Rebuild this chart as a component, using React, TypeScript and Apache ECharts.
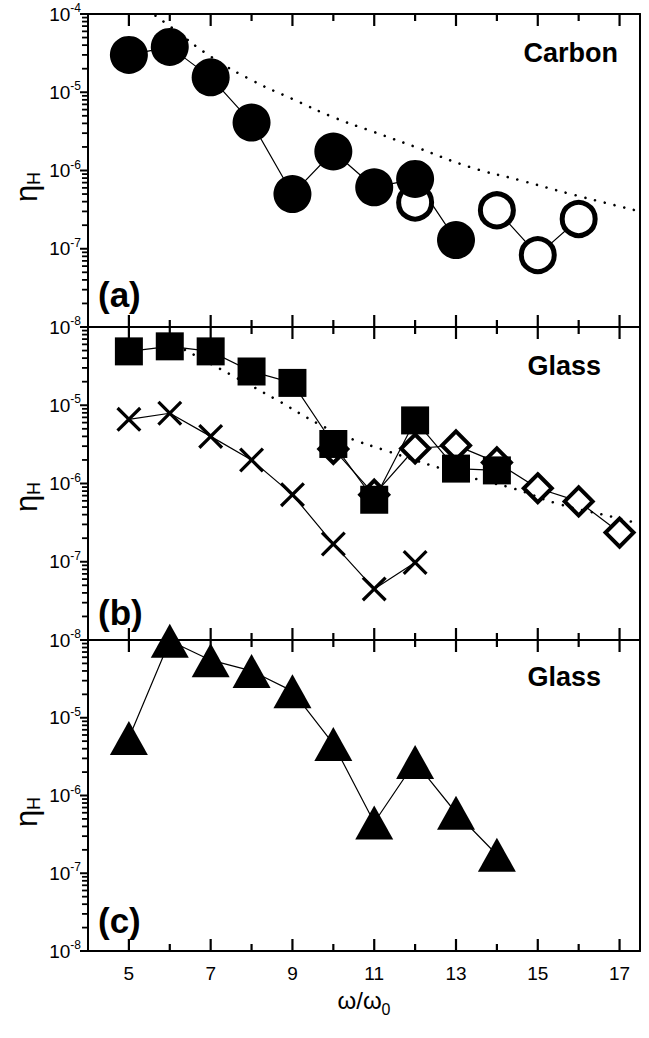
import React, { useEffect, useRef } from "react";
import * as echarts from "echarts";

const FONT = "Liberation Sans, Arial, Helvetica, sans-serif";

// axes
const X_MIN = 4;
const X_MAX = 17.5;
const xLabelTicks = [5, 7, 9, 11, 13, 15, 17];
const xMinorTicks = [6, 8, 10, 12, 14, 16];
const yMin = 1e-8;
const yMax = 1e-4;
const yDecades = [1e-8, 1e-7, 1e-6, 1e-5, 1e-4];
const yMinorExps = [-8, -7, -6, -5];
const yMinorMantissas = [2, 3, 4, 5, 6, 7, 8, 9];

// panel (a) Carbon
const carbonFilledX = [5, 6, 7, 8, 9, 10, 11, 12, 13];
const carbonFilledY = [3.0e-5, 3.8e-5, 1.55e-5, 4.1e-6, 5.0e-7, 1.75e-6, 6.1e-7, 7.8e-7, 1.29e-7];
const carbonOpenX = [12, 13, 14, 15, 16];
const carbonOpenY = [3.9e-7, null, 3.1e-7, 8.3e-8, 2.4e-7];
const carbonFitX = [5.65, 6.03, 7.03, 8.0, 9.0, 10.0, 11.0, 12.04, 13.36, 14.59, 15.81, 17.5];
const carbonFitY = [9.5e-5, 6.8e-5, 2.8e-5, 1.43e-5, 8.2e-6, 4.8e-6, 3.1e-6, 1.97e-6, 1.1e-6, 7.45e-7, 5.0e-7, 3.0e-7];

// panel (b) Glass
const squareX = [5, 6, 7, 8, 9, 10, 11, 12, 13, 14];
const squareY = [4.88e-5, 5.66e-5, 4.88e-5, 2.7e-5, 1.93e-5, 3.2e-6, 6.2e-7, 6.4e-6, 1.55e-6, 1.47e-6];
const diamondX = [10, 11, 12, 13, 14, 15, 16, 17];
const diamondY = [2.77e-6, 7.2e-7, 2.8e-6, 3.07e-6, 1.86e-6, 8.7e-7, 5.9e-7, 2.36e-7];
const crossX = [5, 6, 7, 8, 9, 10, 11, 12];
const crossY = [6.6e-6, 7.9e-6, 4.0e-6, 2.0e-6, 7.2e-7, 1.69e-7, 4.5e-8, 9.8e-8];
const glassFitX = [6.37, 7.6, 8.58, 9.71, 10.34, 11.27, 12.63, 13.61, 14.42, 15.5, 16.87, 17.5];
const glassFitY = [5.1e-5, 2.29e-5, 1.2e-5, 5.5e-6, 3.9e-6, 2.65e-6, 1.56e-6, 1.1e-6, 8.6e-7, 5.5e-7, 3.7e-7, 3.05e-7];

// panel (c) Glass
const triangleX = [5, 6, 7, 8, 9, 10, 11, 12, 13, 14];
const triangleY = [5.5e-6, 9.8e-5, 5.5e-5, 4.0e-5, 2.2e-5, 4.6e-6, 4.5e-7, 2.7e-6, 6.0e-7, 1.73e-7];

const pair = (xs: number[], ys: (number | null)[]) =>
  xs.map((x, k) => [x, ys[k] == null ? "-" : ys[k]]);

const GRID_LEFT = 88;
const GRID_WIDTH = 552;
const grids = [
  { top: 14, height: 313 },
  { top: 327, height: 313 },
  { top: 640, height: 311 },
];

const X_PER_GRID = 2;
const Y_PER_GRID = 2;

const CROSS =
  "path://M0,2.2L2.2,0L12,9.8L21.8,0L24,2.2L14.2,12L24,21.8L21.8,24L12,14.2L2.2,24L0,21.8L9.8,12Z";

export default function App() {
  const ref = useRef<HTMLDivElement>(null);

  useEffect(() => {
    if (!ref.current) return;
    const chart = echarts.init(ref.current, undefined, { renderer: "svg" });

    const minorValues: number[] = [];
    yMinorExps.forEach((e) =>
      yMinorMantissas.forEach((m) => minorValues.push(m * Math.pow(10, e)))
    );

    const frameLine = { show: true, lineStyle: { color: "#000", width: 2 } };

    const xAxes: any[] = [];
    const yAxes: any[] = [];
    grids.forEach((g, i) => {
      const bottom: any = {
        type: "value",
        gridIndex: i,
        min: X_MIN,
        max: X_MAX,
        position: "bottom",
        axisLine: frameLine,
        splitLine: { show: false },
        axisTick: { show: false },
        axisLabel:
          i === 2
            ? {
                show: true,
                customValues: xLabelTicks,
                fontSize: 19,
                fontFamily: FONT,
                color: "#000",
                margin: 13,
              }
            : { show: false },
      };
      if (i === 2) {
        bottom.name = "{w|ω/ω}{z|0}";
        bottom.nameLocation = "middle";
        bottom.nameGap = 32;
        bottom.nameTextStyle = {
          rich: {
            w: { fontSize: 24, fontFamily: FONT, color: "#000", lineHeight: 34 },
            z: { fontSize: 16, fontFamily: FONT, color: "#000", lineHeight: 16, verticalAlign: "bottom" },
          },
        };
      }
      xAxes.push(bottom);
      xAxes.push({
        type: "value",
        gridIndex: i,
        min: X_MIN,
        max: X_MAX,
        position: "top",
        axisLine: frameLine,
        splitLine: { show: false },
        axisTick: { show: false },
        axisLabel: { show: false },
      });

      yAxes.push({
        type: "log",
        logBase: 10,
        gridIndex: i,
        min: yMin,
        max: yMax,
        position: "left",
        axisLine: frameLine,
        axisTick: { show: false },
        splitLine: { show: false },
        axisLabel: {
          show: true,
          margin: 7,
          formatter: (v: number) => {
            const e = Math.round(Math.log10(v));
            if (i > 0 && e === -4) return "";
            return `{b|10}{s|${e}}`;
          },
          rich: {
            b: { fontSize: 19, fontFamily: FONT, color: "#000", lineHeight: 24 },
            s: { fontSize: 12, fontFamily: FONT, color: "#000", lineHeight: 12, verticalAlign: "top" },
          },
        },
      });
      yAxes.push({
        type: "log",
        logBase: 10,
        gridIndex: i,
        min: yMin,
        max: yMax,
        position: "right",
        axisLine: frameLine,
        axisTick: { show: false },
        splitLine: { show: false },
        axisLabel: { show: false },
      });
    });

    const dotted = { color: "#000", width: 2.6, type: [0.01, 10], cap: "round" };
    const thin = { color: "#000", width: 1.2 };

    const lineSeries = (gi: number, data: any[], style: any, z: number, smooth = false) => ({
      type: "line",
      xAxisIndex: gi * X_PER_GRID,
      yAxisIndex: gi * Y_PER_GRID,
      data,
      symbol: "none",
      smooth,
      connectNulls: false,
      lineStyle: style,
      z,
    });
    const scatter = (
      gi: number,
      data: any[],
      symbol: string,
      size: any,
      itemStyle: any,
      z: number,
      offset: number[] = [0, 0]
    ) => ({
      type: "scatter",
      xAxisIndex: gi * X_PER_GRID,
      yAxisIndex: gi * Y_PER_GRID,
      data: data.filter((d) => d[1] !== "-"),
      symbol,
      symbolSize: size,
      symbolOffset: offset,
      itemStyle,
      z,
      clip: false,
    });

    const openStyle = (bw: number) => ({ color: "#fff", borderColor: "#000", borderWidth: bw, opacity: 1 });
    const filled = { color: "#000", opacity: 1 };

    // tick marks: short rect symbols placed through the axes' scales
    const tickSeries: any[] = [];
    grids.forEach((g, i) => {
      const xt = (vals: number[], len: number) => {
        tickSeries.push(scatter(i, vals.map((v) => [v, yMin]), "rect", [2.2, len], filled, 6, [0, -len / 2]));
        tickSeries.push(scatter(i, vals.map((v) => [v, yMax]), "rect", [2.2, len], filled, 6, [0, len / 2]));
      };
      xt(xLabelTicks, 12);
      xt(xMinorTicks, 7);
      tickSeries.push(scatter(i, yDecades.map((v) => [X_MIN, v]), "rect", [8, 2], filled, 6, [-4, 0]));
      tickSeries.push(scatter(i, minorValues.map((v) => [X_MIN, v]), "rect", [6, 1.8], filled, 6, [-3, 0]));
    });

    const series: any[] = [
      ...tickSeries,
      // panel a
      lineSeries(0, pair(carbonFilledX, carbonFilledY), thin, 1),
      lineSeries(0, pair(carbonOpenX, carbonOpenY), thin, 1),
      scatter(0, pair(carbonOpenX, carbonOpenY), "circle", 33, openStyle(5), 2),
      lineSeries(0, pair(carbonFitX, carbonFitY), dotted, 3, true),
      scatter(0, pair(carbonFilledX, carbonFilledY), "circle", 38, filled, 4),
      // panel b
      lineSeries(1, pair(squareX, squareY), thin, 1),
      lineSeries(1, pair(diamondX, diamondY), thin, 1),
      lineSeries(1, pair(crossX, crossY), thin, 1),
      scatter(1, pair(diamondX, diamondY), "diamond", 28, openStyle(4), 2),
      scatter(1, pair(crossX, crossY), CROSS, 25, filled, 2),
      lineSeries(1, pair(glassFitX, glassFitY), dotted, 3, true),
      scatter(1, pair(squareX, squareY), "rect", 28, filled, 4),
      // panel c
      lineSeries(2, pair(triangleX, triangleY), thin, 1),
      scatter(2, pair(triangleX, triangleY), "triangle", [38, 34], filled, 4),
    ];

    const bold = (text: string, x: number, y: number, size: number, align: string) => ({
      type: "text",
      x,
      y,
      style: {
        text,
        fontSize: size,
        fontWeight: "bold",
        fontFamily: FONT,
        fill: "#000",
        align,
        verticalAlign: "middle",
      },
    });
    const etaLabel = (y: number) => ({
      type: "text",
      x: 26,
      y,
      rotation: Math.PI / 2,
      style: {
        text: "{e|η}{h|H}",
        align: "center",
        verticalAlign: "middle",
        rich: {
          e: { fontSize: 31, fontFamily: FONT, fill: "#000", lineHeight: 34 },
          h: { fontSize: 18, fontFamily: FONT, fill: "#000", lineHeight: 18, verticalAlign: "bottom" },
        },
      },
    });

    chart.setOption({
      animation: false,
      grid: grids.map((g) => ({
        left: GRID_LEFT,
        width: GRID_WIDTH,
        top: g.top,
        height: g.height,
        show: false,
        containLabel: false,
      })),
      xAxis: xAxes,
      yAxis: yAxes,
      series,
      graphic: [
        bold("Carbon", 618, 53, 27, "right"),
        bold("Glass", 601, 366, 27, "right"),
        bold("Glass", 601, 677, 27, "right"),
        bold("(a)", 98, 294, 35, "left"),
        bold("(b)", 98, 612, 35, "left"),
        bold("(c)", 98, 920, 35, "left"),
        etaLabel(187),
        etaLabel(497),
        etaLabel(812),
      ],
    });

    return () => chart.dispose();
  }, []);

  return (
    <div
      ref={ref}
      style={{ position: "fixed", left: 0, top: 0, width: 649, height: 1038, background: "#fff" }}
    />
  );
}
